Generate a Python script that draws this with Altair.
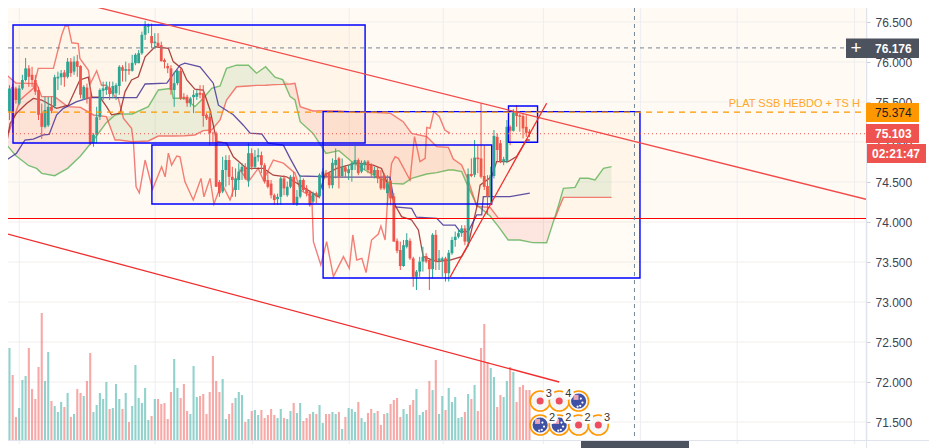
import altair as alt
import pandas as pd

# ---------- candles (body top, body bottom, high, low) ----------
up = ("TTTRRTTTRRRRRTTRTTTRTRTRRTRRTTTTTRTTTRTRTTTTTTRTRRRRRTTRRRTTTRRRRRRRTTRRTTTRTRTTRRRRRTTRTTRTTRRRTRTTRRTTRTRTTTRTTRRTRRRTRRRRTTRRTTTRRTRTTRTTTTTRTRTRRRRTTRRTTRTRRRRR")
body_top = [75.21,75.44,75.67,75.69,75.67,75.67,75.775,75.92,75.92,75.84,75.775,75.65,75.36,75.40,75.44,75.44,75.81,75.815,75.86,75.87,
76.005,76.005,76.005,76.01,75.95,75.69,75.68,75.565,75.09,75.31,75.65,75.67,75.69,75.68,75.70,75.71,75.94,75.935,75.91,75.91,
75.99,76.09,76.11,76.34,76.45,76.45,76.325,76.255,76.24,76.21,76.025,75.95,75.92,75.735,75.89,75.89,75.565,75.565,75.545,75.59,
75.61,75.615,75.61,75.34,75.315,75.115,75.11,74.5,74.65,74.775,74.775,74.565,74.545,74.63,74.69,74.69,74.86,74.86,74.815,74.835,
74.835,74.71,74.525,74.48,74.335,74.315,74.545,74.545,74.44,74.565,74.565,74.315,
74.525,74.525,74.42,74.38,74.36,74.36,74.59,74.63,74.615,74.61,74.74,74.775,74.795,74.69,74.685,74.66,74.74,74.775,
74.775,74.735,74.755,74.755,74.71,74.65,74.65,74.545,74.585,74.485,74.505,74.32,73.765,73.65,73.71,73.775,73.765,73.545,73.38,73.505,
73.565,73.575,73.525,73.84,73.84,73.545,73.545,73.545,73.615,73.775,73.815,73.86,73.92,73.92,74.6,74.6,74.805,74.805,74.795,74.575,
74.45,74.585,75.075,75.065,74.985,74.785,75.19,75.19,75.365,75.365,75.335,75.325,75.19,75.13]
body_bot = [75.07,75.19,75.38,75.23,75.525,75.48,75.67,75.775,75.815,75.775,75.63,75.34,75.19,75.19,75.21,75.39,75.45,75.795,75.81,75.81,
75.815,75.86,75.88,75.94,75.59,75.54,75.545,74.985,74.985,75.09,75.315,75.64,75.65,75.60,75.60,75.61,75.70,75.89,75.89,75.89,
75.89,75.985,75.985,76.11,76.34,76.44,76.235,76.235,76.2,76.01,76.0,75.92,75.65,75.65,75.735,75.545,75.545,75.485,75.485,75.56,
75.565,75.59,75.325,75.295,75.11,75.11,74.44,74.36,74.38,74.65,74.565,74.525,74.40,74.525,74.63,74.545,74.525,74.69,74.69,74.81,
74.71,74.505,74.44,74.335,74.275,74.285,74.315,74.42,74.335,74.44,74.235,74.225,
74.317,74.40,74.36,74.21,74.255,74.32,74.32,74.545,74.575,74.46,74.46,74.71,74.565,74.575,74.63,74.61,74.65,74.725,
74.61,74.63,74.71,74.65,74.61,74.585,74.545,74.42,74.42,74.36,74.295,73.755,73.64,73.45,73.45,73.69,73.545,73.315,73.315,73.38,
73.505,73.505,73.41,73.41,73.505,73.515,73.525,73.36,73.36,73.61,73.775,73.815,73.86,73.755,73.755,74.575,74.59,74.785,74.565,74.44,
74.32,74.32,74.575,74.90,74.755,74.755,74.765,75.14,75.14,75.325,75.315,75.17,75.115,75.103]
high = [75.36,75.525,75.71,75.73,75.69,75.71,75.84,76.05,75.96,75.94,75.84,75.69,75.48,75.57,75.565,75.565,75.84,75.88,75.90,75.90,
76.05,76.05,76.07,76.09,75.96,75.71,75.73,75.67,75.11,75.44,75.67,75.755,75.755,75.755,75.755,75.735,75.96,75.96,76.005,75.985,
76.09,76.11,76.15,76.38,76.515,76.48,76.48,76.36,76.36,76.255,76.045,75.985,75.96,75.88,75.92,75.92,75.61,75.59,75.565,75.65,
75.65,75.71,75.71,75.36,75.36,75.13,75.13,74.525,74.815,74.835,74.835,74.69,74.67,74.735,74.735,74.735,74.985,74.92,74.90,74.92,
74.88,74.735,74.65,74.525,74.355,74.355,74.565,74.585,74.505,74.585,74.63,74.40,
74.59,74.545,74.46,74.40,74.38,74.38,74.61,74.67,74.65,74.63,74.795,74.92,74.815,74.795,74.71,74.71,74.755,74.95,
74.795,74.77,74.775,74.775,74.735,74.69,74.69,74.65,74.61,74.585,74.525,74.36,73.795,73.755,73.775,73.86,73.795,73.565,73.40,73.565,
73.69,73.61,73.545,73.86,73.90,73.65,73.565,73.565,73.65,73.815,73.88,73.90,73.96,73.96,74.67,74.795,75.025,74.96,75.485,74.955,
74.585,74.69,75.15,75.11,75.025,74.815,75.275,75.21,75.41,75.46,75.35,75.35,75.335,75.16]
low = [74.88,75.025,75.275,75.11,75.48,75.46,75.65,75.755,75.69,75.69,75.59,75.275,75.04,75.17,75.19,75.36,75.42,75.65,75.71,75.69,
75.795,75.815,75.84,75.815,75.545,75.525,75.48,74.96,74.94,74.985,75.275,75.525,75.59,75.525,75.545,75.525,75.59,75.755,75.755,75.84,
75.88,75.96,75.985,76.09,76.275,76.36,76.17,76.17,76.19,76.005,75.92,75.86,75.59,75.44,75.71,75.525,75.525,75.44,75.44,75.36,
75.525,75.545,75.19,75.275,74.96,74.985,74.44,74.315,74.36,74.44,74.46,74.315,74.315,74.40,74.525,74.525,74.44,74.65,74.67,74.755,
74.61,74.48,74.42,74.295,74.215,74.215,74.215,74.335,74.315,74.42,74.215,74.2,
74.295,74.38,74.32,74.19,74.235,74.235,74.295,74.40,74.545,74.42,74.42,74.545,74.42,74.56,74.565,74.525,74.505,74.65,
74.585,74.61,74.65,74.61,74.565,74.545,74.485,74.40,74.40,74.21,74.21,73.755,73.61,73.40,73.44,73.67,73.525,73.19,73.15,73.315,
73.38,73.485,73.15,73.295,73.40,73.40,73.315,73.255,73.255,73.59,73.69,73.795,73.815,73.71,73.69,74.56,74.56,74.61,74.545,74.40,
74.09,74.21,74.545,74.755,74.735,74.71,74.735,74.96,75.13,75.19,75.13,75.045,75.065,75.06]
volume = [57,47,92,65,23,32,60,64,92,51,41,73,127,59,88,39,34,28,38,33,47,23,26,51,47,44,59,87,28,35,47,41,58,31,32,56,41,31,47,18,
34,75,42,37,52,20,24,41,41,36,37,21,48,81,52,42,56,29,26,74,43,44,46,26,48,84,59,48,61,21,26,37,42,48,45,18,21,29,30,25,
30,22,25,31,25,22,31,22,21,29,37,27,37,
19,22,26,28,26,35,17,26,26,28,26,28,11,23,32,31,28,38,22,18,27,31,27,29,15,26,27,36,40,42,23,31,26,35,40,51,25,28,30,59,50,
80,26,44,30,52,38,43,22,23,28,46,41,55,29,92,116,78,72,63,33,45,43,59,73,68,38,53,55,50,50]

# ---------- Ichimoku lines (bar index, price) ----------
kijun_x = [-0.9,1.1,4.2,6.8,9.4,12.5,14.3,16.6,18.7,22.8,26.9,41.4,44,50.7,54.8,56.3,61,65.1,66.7,71.3,74.4,76.5,80.1,82.1,86.8,88.9,91.9,99.2,102.3,119.8,121.4,126.5,128,134.3,136.3,140,141.5,144,146.7,148.2,148.7,157,160,163.1]
kijun_y = [74.775,74.775,74.86,75.025,75.035,75.09,75.095,75.34,75.42,75.505,75.555,75.555,75.725,75.735,75.96,75.985,75.94,75.735,75.46,75.34,75.21,75.11,75.1,74.985,74.96,74.795,74.575,74.567,74.56,74.56,74.19,74.17,74.06,74.046,73.96,73.96,73.88,73.88,74.09,74.09,74.317,74.317,74.34,74.36]
tenkan_x = [1.1,2.2,4.2,7.3,9.4,12,16.6,20.2,23.8,26.4,27.5,30,32.1,33.6,36.2,37.8,39.8,41.9,44,47.1,51.2,52.7,55.3,56.9,59.4,62,64.1,66.2,69.2,71.3,75.4,80.6,83.7,87.8,92,97.6,99.7,103.3,109.5,114.6,117.2,119.8,121.4,123.4,126.5,128.6,130.1,134.3,138.4,142,144,146.7,147.7,151.3,152.8,156.4,159,162.1,163.1]
tenkan_y = [74.98,75.23,75.36,75.48,75.545,75.525,75.42,75.46,75.775,75.81,75.565,75.56,75.44,75.34,75.36,75.63,75.775,75.815,76.065,76.19,76.17,76.005,75.92,75.775,75.66,75.65,75.4,75.005,74.985,74.815,74.67,74.67,74.585,74.565,74.46,74.317,74.59,74.67,74.74,74.71,74.67,74.4,74.21,74.067,74.025,73.9,73.567,73.505,73.525,73.567,73.71,74.19,74.46,74.567,74.754,74.754,74.817,75.025,75.025]
chikou_x = [1.7,5.3,9.4,10.9,15.6,18.2,19.2,20.2,21.3,23.3,23.8,26.4,27.1,29,30.5,32.1,34.7,35.7,37.3,39.8,40.4,41.2,42.2,44,46.3,49.1,50.2,51.2,52.2,53.8,54.8,56.3,58.9,61.3,62.2,64.1,65.3,67.7,70.3,73.4,76,79,80.6,83.7,86.8,90.4,92,95.6,96.1,98.4,100.2,102.3,105.4,107.2,108.3,109.5,111.1,112.4,114.1,116.2,117,118.3,119,120.3,121.4,122.4,126,127.4,129.1,130.7,131.2,132.2,133.4,135.1,136.8,138.4]
chikou_y = [75.11,75.525,75.67,75.92,75.92,76.34,76.45,76.45,76.24,76.23,76.045,75.9,75.735,75.89,75.71,75.71,75.565,75.545,75.295,75.17,74.985,74.44,74.365,74.775,74.41,74.69,74.565,74.86,74.71,74.825,74.815,74.505,74.275,74.545,74.315,74.545,74.225,74.485,74.275,74.65,74.505,74.67,74.525,74.775,74.735,74.61,74.4,74.317,73.754,73.463,73.754,73.317,73.567,73.42,73.838,73.525,73.546,73.367,73.775,73.85,73.95,73.775,74.233,74.733,74.817,74.796,74.525,75.067,74.754,74.796,75.183,75.17,75.38,75.317,75.15,75.108]
cloud_x = [0,4,8,10.4,12,16,20,24,28,32,34.7,36,40,45,48.1,52.2,52.7,56.3,59.4,62,64.6,67.2,69.2,72.3,76,78.5,81.3,84.2,86.6,88.9,90.4,92,96,100,104,108,112,116,120,123.9,126.5,131.2,134.3,137.9,139.4,142,144,146.7,150.8,153.4,156.4,160,164,168.3,170.9,172.3,173.5,177.1,178.6,181.2,183.3,185.9,188.4]
span_a = [75.017,74.829,74.704,74.67,74.608,74.579,74.671,74.825,75.025,75.242,75.337,75.35,75.35,75.442,75.65,75.671,75.546,75.546,75.442,75.546,75.671,75.7,75.92,75.96,75.96,75.86,75.94,75.81,75.78,75.567,75.525,75.254,75.108,74.858,74.892,74.754,74.65,74.558,74.483,74.475,74.546,74.6,74.617,74.65,74.65,74.63,74.442,74.212,74.075,73.942,73.775,73.775,73.742,73.74,74.067,74.25,74.42,74.433,74.546,74.546,74.525,74.671,74.692]
span_b = [75.879,75.737,75.733,75.73,75.567,75.567,75.442,75.433,75.338,75.317,75.025,75.025,75.004,75.013,75.075,75.075,75.075,75.079,75.088,75.142,75.15,75.275,75.525,75.69,75.7,75.708,75.71,75.717,75.72,75.725,75.733,75.442,75.388,75.392,75.388,75.375,75.371,75.367,75.358,75.254,75.108,75.067,74.942,74.933,74.787,74.713,74.525,74.192,74.183,74.046,74.046,74.046,74.046,74.046,74.046,74.19,74.308,74.308,74.308,74.308,74.308,74.308,74.308]

# ---------- drawings ----------
box_x0 = [3.1,46.1,99.1,156.5]
box_x1 = [112.1,151.3,197.2,165.5]
box_hi = [76.4625,74.9625,75.38,75.45]
box_lo = [74.9875,74.225,73.3,74.996]
trend_x = [[20.2,267.2],[-0.93,172.2],[138.4,168.3]]
trend_y = [[76.775,74.284],[73.875,72.0],[73.309,75.484]]
price_ticks = [71.5,72.0,72.5,73.0,73.5,74.0,74.5,75.0,75.5,76.0,76.5]
grid_bars = [5.05,47.1,77.2,107.2,136.3,167.3,197.4,227.3,263.6]
support = 74.044
ssb_level = 75.374
last_price = 75.103
cross_price = 76.176
cross_bar = 195.5
ssb_label = "PLAT SSB HEBDO + TS H"
dot_icons = [(166.3,71.7625),(172.2,71.7625),(178.2,71.4625),(184.3,71.4625)]
au_icons = [(178.2,71.7625),(166.3,71.4625),(172.2,71.4625)]
icon_counts = [(169,71.85,"3"),(175,71.85,"4"),(170,71.546,"2"),(175,71.546,"2"),(181,71.546,"2"),(187,71.546,"3")]

TEAL = "#26a69a"; RED = "#ef5350"; ORANGE = "#ff9800"; DARK = "#4c525e"; SLATE = "#758696"
W, H = 858, 432
xscale = alt.Scale(domain=[1.548, 1.548 + W / 3.23], nice=False, zero=False, padding=0)
yscale = alt.Scale(domain=[71.275, 76.675], nice=False, zero=False)

def X(f): return alt.X(f, type="quantitative", scale=xscale, axis=None, sort=None)
def Y(f, axis=None): return alt.Y(f, type="quantitative", scale=yscale, axis=axis)

def lines(xs, ys, color, width=1.5, opacity=1.0, dash=None):
    kw = dict(clip=True, color=color, strokeWidth=width, opacity=opacity)
    if dash: kw["strokeDash"] = dash
    return alt.Chart(pd.DataFrame({"x": xs, "y": ys})).mark_line(**kw).encode(x=X("x"), y=Y("y"))

def hline(price, color, width=1.0, dash=None):
    kw = dict(color=color, strokeWidth=width)
    if dash: kw["strokeDash"] = dash
    return alt.Chart(pd.DataFrame({"y": [price]})).mark_rule(**kw).encode(x=alt.value(0), x2=alt.value(W), y=Y("y"))

def box(x0, x1, y0, y1, color):
    return alt.Chart(pd.DataFrame({"a": [0]})).mark_rect(color=color).encode(
        x=alt.value(x0), x2=alt.value(x1), y=alt.value(y0), y2=alt.value(y1))

def label(x, y, txt, color, size=12, weight="normal", align="left"):
    return alt.Chart(pd.DataFrame({"t": [txt]})).mark_text(
        color=color, fontSize=size, font="Liberation Sans", fontWeight=weight, align=align, baseline="middle"
    ).encode(x=alt.value(x), y=alt.value(y), text="t:N")

candles = pd.DataFrame({"i": range(len(body_top)), "top": body_top, "bot": body_bot, "hi": high, "lo": low, "up": list(up)[:len(body_top)]})
candles["colour"] = candles.up.map({"T": TEAL, "R": RED})
vols = pd.DataFrame({"i": range(len(volume)), "v": volume, "up": list(up)[:len(volume)]})
vols["colour"] = vols.up.map({"T": TEAL, "R": RED})
cloud = pd.DataFrame({"x": cloud_x, "a": span_a, "b": span_b})
cloud["top"] = cloud[["a", "b"]].max(axis=1)

colour = alt.Color("colour:N", scale=None, legend=None)

# cream rectangle drawn from the top of the pane down to the support line
cream = alt.Chart(pd.DataFrame({"y0": [support], "y1": [76.675]})).mark_rect(color="#fffaf3").encode(
    x=alt.value(0), x2=alt.value(W), y=Y("y0"), y2="y1:Q")

hgrid = alt.Chart(pd.DataFrame({"y": price_ticks})).mark_rule(color="#f1efed", strokeWidth=1).encode(
    x=alt.value(0), x2=alt.value(W),
    y=Y("y", axis=alt.Axis(orient="right", values=price_ticks, format=".3f", title=None, grid=False,
        tickSize=4, tickColor="#c9ccd3", domainColor="#e0e3eb", labelColor="#3d4250",
        labelFont="Liberation Sans", labelFontSize=12, labelPadding=5, domainWidth=1.5)))
vgrid = alt.Chart(pd.DataFrame({"x": grid_bars})).mark_rule(color="#eceef2", strokeWidth=1).encode(
    x=X("x"), y=alt.value(0), y2=alt.value(H + 4))

vol_layer = alt.Chart(vols).mark_bar(size=2.1, opacity=0.5, clip=True).encode(
    x=X("i"), y=alt.Y("v:Q", scale=alt.Scale(domain=[0, H], nice=False), axis=None), color=colour)

green_area = alt.Chart(cloud).mark_area(clip=True, color="#4caf50", opacity=0.11).encode(x=X("x"), y=Y("top"), y2="b:Q")
red_area = alt.Chart(cloud).mark_area(clip=True, color="#ef5350", opacity=0.12).encode(x=X("x"), y=Y("top"), y2="a:Q")

wicks = alt.Chart(candles).mark_rule(strokeWidth=1, clip=True).encode(x=X("i"), y=Y("hi"), y2="lo:Q", color=colour)
bodies = alt.Chart(candles).mark_bar(size=2.8, clip=True).encode(x=X("i"), y=Y("top"), y2="bot:Q", color=colour)

boxes = alt.Chart(pd.DataFrame({"x0": box_x0, "x1": box_x1, "y0": box_lo, "y1": box_hi})).mark_rect(
    fill=ORANGE, fillOpacity=0.04, stroke="#0000ff", strokeWidth=1.4, clip=True
).encode(x=X("x0"), x2="x1:Q", y=Y("y0"), y2="y1:Q")

ssb_text = alt.Chart(pd.DataFrame({"x": [265.3], "y": [75.481], "t": [ssb_label]})).mark_text(
    color="#ffa726", fontSize=11, font="Liberation Sans", align="right", baseline="middle"
).encode(x=X("x"), y=Y("y"), text="t:N")

cross_v = alt.Chart(pd.DataFrame({"x": [cross_bar]})).mark_rule(color=SLATE, strokeWidth=1, strokeDash=[4, 4]).encode(
    x=X("x"), y=alt.value(0), y2=alt.value(H))

def icons():
    out = []
    rings = dot_icons + au_icons
    rings.sort(key=lambda t: (-t[1], t[0]))
    d = pd.DataFrame(rings, columns=["x", "y"])
    out.append(alt.Chart(d).mark_point(shape="circle", filled=False, stroke=ORANGE, strokeWidth=1.6, size=400, opacity=1, fill="#f6f6f6", fillOpacity=1).encode(x=X("x"), y=Y("y")))
    out.append(alt.Chart(pd.DataFrame(dot_icons, columns=["x", "y"])).mark_point(shape="circle", filled=True, color="#ee4d60", size=50, opacity=1).encode(x=X("x"), y=Y("y")))
    au = pd.DataFrame(au_icons, columns=["x", "y"])
    out.append(alt.Chart(au).mark_point(shape="circle", filled=True, color="#3f51a5", size=230, opacity=1).encode(x=X("x"), y=Y("y")))
    stars = [(a + dx, b + dy) for a, b in au_icons for dx, dy in [(0.7, 0.03), (1.2, -0.02), (0.5, -0.06), (-0.3, -0.07)]]
    out.append(alt.Chart(pd.DataFrame(stars, columns=["x", "y"])).mark_point(shape="circle", filled=True, color="white", size=5, opacity=1).encode(x=X("x"), y=Y("y")))
    jack = [(a - 0.8, b + 0.045) for a, b in au_icons]
    out.append(alt.Chart(pd.DataFrame(jack, columns=["x", "y"])).mark_point(shape="square", filled=True, color="#e9a6b8", size=25, opacity=1).encode(x=X("x"), y=Y("y")))
    cnt = pd.DataFrame(icon_counts, columns=["x", "y", "t"])
    out.append(alt.Chart(cnt).mark_point(shape="circle", filled=True, color="white", size=130, opacity=1).encode(x=X("x"), y=Y("y")))
    out.append(alt.Chart(cnt).mark_text(fontSize=11, font="Liberation Sans", color="#333333").encode(x=X("x"), y=Y("y"), text="t:N"))
    return out

layers = [
    cream, hgrid, vgrid, vol_layer, green_area, red_area,
    lines(cloud_x, span_a, "#4caf50", 1.4, 0.75),
    lines(cloud_x, span_b, RED, 1.4, 0.75),
    lines(chikou_x, chikou_y, RED, 1.4, 0.75),
    lines(tenkan_x, tenkan_y, "#9b2226", 1.3, 0.85),
    lines(kijun_x, kijun_y, "#3c2f9e", 1.3, 0.85),
    wicks, bodies, boxes,
    hline(ssb_level, ORANGE, 1.2, [6, 5]),
    hline(last_price, RED, 1, [1, 3]),
    hline(support, "#ff0000", 1.1),
    hline(cross_price, SLATE, 1, [4, 4]),
    cross_v,
    lines(trend_x[0], trend_y[0], "#f24a4a", 1.3),
    lines(trend_x[1], trend_y[1], "#f02c2c", 1.3),
    lines(trend_x[2], trend_y[2], "#f02c2c", 1.3),
    ssb_text,
    *icons(),
    # chrome around the axis
    box(W, W + 1, 0, 440, "#e0e3eb"),
    box(0, 921, H, H + 1, "#e0e3eb"),
    box(573, 681, H + 1, 440, DARK),
    box(838, W, 30.5, 50, DARK),
    box(W, 911, 30.5, 50, DARK),
    box(W, 911, 95, 114, ORANGE),
    box(W, 911, 116, 135, RED),
    box(859, 918, 136, 155, RED),
    label(867, 40.5, "76.176", "#ffffff", weight="bold"),
    label(867, 105, "75.374", "#1a1d26"),
    label(867, 126, "75.103", "#ffffff", weight="bold"),
    label(864, 146, "02:21:47", "#ffffff", weight="bold"),
    label(848, 40, "+", "#ffffff", size=19, align="center"),
]

chart = alt.layer(*layers).resolve_scale(y="independent").properties(
    width=W, height=H,
    padding={"left": 0, "top": 0, "right": 63, "bottom": 8},
    autosize=alt.AutoSizeParams(type="none"),
    background="white",
).configure_view(stroke=None)

chart.save("out.html", embed_options={"renderer": "svg", "actions": False})
